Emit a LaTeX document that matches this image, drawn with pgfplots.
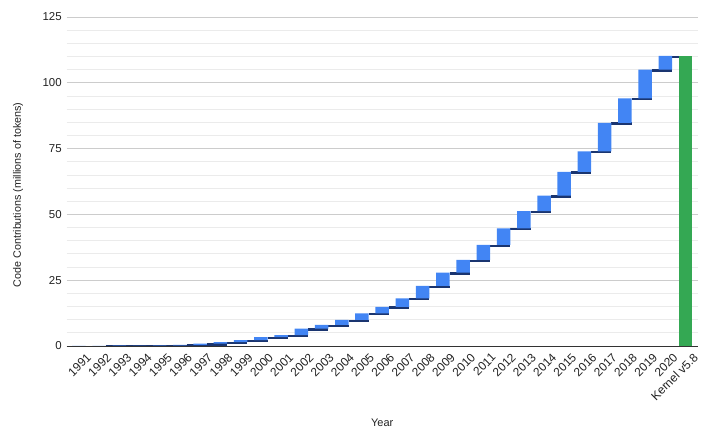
\documentclass[border=0pt]{standalone}
\usepackage{pgfplots}
\pgfplotsset{compat=1.18}
\usepackage{pgfplotstable}
\usepackage{fontspec}
\setmainfont{Liberation Sans}
\definecolor{gblue}{HTML}{4285F4}
\definecolor{ggreen}{HTML}{34A853}
\definecolor{gdark}{HTML}{1A3570}
\definecolor{gmajor}{HTML}{CCCCCC}
\definecolor{gminor}{HTML}{EBEBEB}
\definecolor{gtext}{HTML}{222222}
\definecolor{gaxis}{HTML}{333333}

\pgfplotstableread[row sep=\\]{
x start delta green \\
0 0 0.02 0 \\
1 0.02 0.03 0 \\
2 0.05 0.05 0 \\
3 0.1 0.05 0 \\
4 0.15 0.1 0 \\
5 0.25 0.2 0 \\
6 0.45 0.45 0 \\
7 0.9 0.6 0 \\
8 1.5 0.7 0 \\
9 2.2 1.2 0 \\
10 3.4 0.7 0 \\
11 4.1 2.5 0 \\
12 6.6 1.4 0 \\
13 8.0 1.9 0 \\
14 9.9 2.5 0 \\
15 12.4 2.5 0 \\
16 14.9 3.2 0 \\
17 18.1 4.7 0 \\
18 22.8 5.1 0 \\
19 27.9 4.8 0 \\
20 32.7 5.7 0 \\
21 38.4 6.3 0 \\
22 44.7 6.5 0 \\
23 51.2 5.9 0 \\
24 57.1 9.1 0 \\
25 66.2 7.7 0 \\
26 73.9 10.9 0 \\
27 84.8 9.3 0 \\
28 94.1 10.9 0 \\
29 105.0 5.2 0 \\
30 0 0 110.2 \\
}\waterfall

\pgfplotstableread[row sep=\\]{
x y \\
0.335 0.02 \\ 1.335 0.02 \\ nan nan \\
1.335 0.05 \\ 2.335 0.05 \\ nan nan \\
2.335 0.1 \\ 3.335 0.1 \\ nan nan \\
3.335 0.15 \\ 4.335 0.15 \\ nan nan \\
4.335 0.25 \\ 5.335 0.25 \\ nan nan \\
5.335 0.45 \\ 6.335 0.45 \\ nan nan \\
6.335 0.9 \\ 7.335 0.9 \\ nan nan \\
7.335 1.5 \\ 8.335 1.5 \\ nan nan \\
8.335 2.2 \\ 9.335 2.2 \\ nan nan \\
9.335 3.4 \\ 10.335 3.4 \\ nan nan \\
10.335 4.1 \\ 11.335 4.1 \\ nan nan \\
11.335 6.6 \\ 12.335 6.6 \\ nan nan \\
12.335 8.0 \\ 13.335 8.0 \\ nan nan \\
13.335 9.9 \\ 14.335 9.9 \\ nan nan \\
14.335 12.4 \\ 15.335 12.4 \\ nan nan \\
15.335 14.9 \\ 16.335 14.9 \\ nan nan \\
16.335 18.1 \\ 17.335 18.1 \\ nan nan \\
17.335 22.8 \\ 18.335 22.8 \\ nan nan \\
18.335 27.9 \\ 19.335 27.9 \\ nan nan \\
19.335 32.7 \\ 20.335 32.7 \\ nan nan \\
20.335 38.4 \\ 21.335 38.4 \\ nan nan \\
21.335 44.7 \\ 22.335 44.7 \\ nan nan \\
22.335 51.2 \\ 23.335 51.2 \\ nan nan \\
23.335 57.1 \\ 24.335 57.1 \\ nan nan \\
24.335 66.2 \\ 25.335 66.2 \\ nan nan \\
25.335 73.9 \\ 26.335 73.9 \\ nan nan \\
26.335 84.8 \\ 27.335 84.8 \\ nan nan \\
27.335 94.1 \\ 28.335 94.1 \\ nan nan \\
28.335 105.0 \\ 29.335 105.0 \\ nan nan \\
29.335 110.2 \\ 30.0 110.2 \\
}\connectors

\pgfplotsset{
  common/.style={
    at={(66.7bp,90bp)}, anchor=south west,
    scale only axis, width=631bp, height=329bp,
    xmin=-0.6, xmax=30.6, ymin=0, ymax=125,
  }
}

\begin{document}
\begin{tikzpicture}
\begin{axis}[
  common,
  axis x line*=bottom, axis y line*=left,
  x axis line style={draw=gaxis, line width=1bp, -},
  y axis line style={draw=none},
  ytick={0,25,...,125},
  minor y tick num=4,
  ymajorgrids, yminorgrids,
  major grid style={draw=gmajor, line width=0.8bp},
  minor grid style={draw=gminor, line width=0.8bp},
  major tick length=0pt, minor tick length=0pt,
  xtick={0,...,30},
  xticklabels={1991,1992,1993,1994,1995,1996,1997,1998,1999,2000,2001,2002,2003,2004,2005,2006,2007,2008,2009,2010,2011,2012,2013,2014,2015,2016,2017,2018,2019,2020,Kernel v5.8},
  /pgf/number format/assume math mode=true,
  yticklabel style={font=\fontsize{11.5}{13}\selectfont, text=gtext, xshift=-1.5bp},
  xticklabel style={font=\fontsize{12}{14}\selectfont, text=gtext, rotate=45, anchor=north east, xshift=4bp, yshift=-6bp},
  ylabel={Code Contributions (millions of tokens)},
  ylabel style={font=\fontsize{10.8}{13}\selectfont, text=gtext, at={(axis description cs:-0.0772,0.459)}, anchor=center, rotate=0},
  xlabel={Year},
  xlabel style={font=\fontsize{11}{13}\selectfont, text=gtext, at={(axis description cs:0.5,-0.232)}, anchor=center},
  unbounded coords=jump,
]
\addplot[draw=gdark, line width=2.4bp, mark=none, yshift=-0.8bp] table[x=x, y=y] {\connectors};
\end{axis}
\begin{axis}[
  common,
  hide axis,
  ybar stacked,
  bar width=13.5bp,
]
\addplot[draw=none, fill=none] table[x=x, y=start] {\waterfall};
\addplot[draw=none, fill=gblue] table[x=x, y=delta] {\waterfall};
\addplot[draw=none, fill=ggreen] table[x=x, y=green] {\waterfall};
\end{axis}
\pgfresetboundingbox
\path[use as bounding box] (0,0) rectangle (710bp,436bp);
\end{tikzpicture}
\end{document}
